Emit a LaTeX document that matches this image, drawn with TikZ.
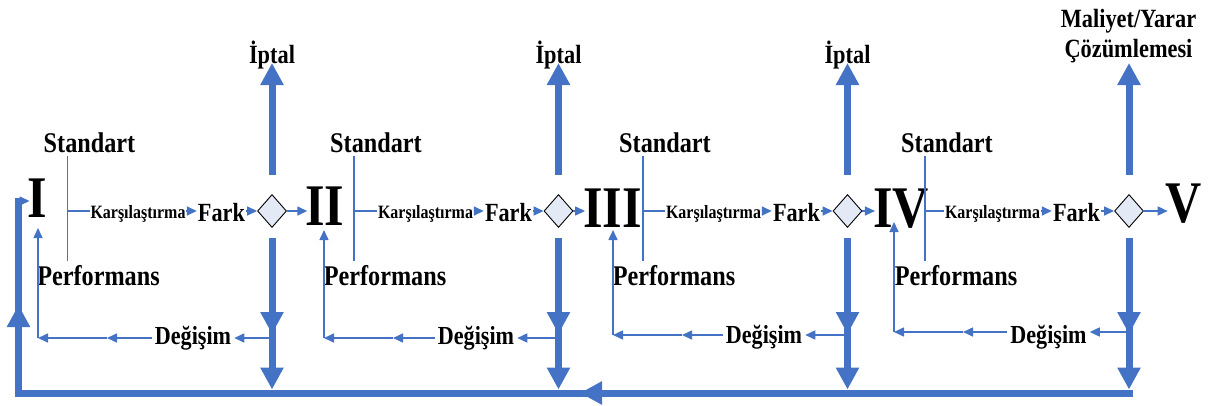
\documentclass[tikz,border=0pt]{standalone}
\usepackage{fontspec}
\setmainfont{Liberation Serif}[FakeStretch=0.85]
\usetikzlibrary{arrows.meta,shapes.geometric}
\definecolor{bl}{HTML}{4472C4}
\definecolor{dfill}{RGB}{227,234,246}
\begin{document}
\begin{tikzpicture}[x=1pt,y=-1pt,
 numeral/.style={anchor=base,inner sep=0pt,font=\fontsize{59}{60}\selectfont\bfseries},
 stdlbl/.style={anchor=base,inner sep=4pt,font=\fontsize{28.5}{30}\selectfont\bfseries},
 karlbl/.style={anchor=base,inner sep=0.5pt,font=\fontsize{18.8}{20}\selectfont\bfseries},
 farklbl/.style={anchor=base,inner sep=1pt,font=\fontsize{26.2}{28}\selectfont\bfseries},
 deglbl/.style={anchor=base,inner sep=3pt,font=\fontsize{26}{28}\selectfont\bfseries},
 toplbl/.style={anchor=base,inner sep=1pt,font=\fontsize{26.3}{28}\selectfont\bfseries},
 dia/.style={diamond,draw=black,line width=0.9pt,fill=dfill,minimum width=29pt,minimum height=33pt,inner sep=0pt},
 thk/.style={draw=bl,line width=7pt},
 thkarr/.style={thk,-{Triangle[width=22pt,length=22pt]}},
 thn/.style={draw=bl,line width=1.5pt},
 thnarr/.style={thn,-{Triangle[width=9pt,length=10pt]}},
]
\useasboundingbox (0,0) rectangle (1213,405);

% numerals
\node[numeral] (n1) at (37.5,217) {I};
\node[numeral] (n2) at (325,225) {II};
\node[numeral] (n3) at (612.5,227) {III};
\node[numeral] (n4) at (901,227) {IV};
\node[numeral] (n5) at (1184,222) {V};

% top labels
\node[toplbl] (ip1) at (272,63) {İptal};
\node[toplbl] (ip2) at (558.5,63) {İptal};
\node[toplbl] (ip3) at (847.5,63) {İptal};
\node[toplbl] (ml1) at (1128.5,27) {Maliyet/Yarar};
\node[toplbl] (ml2) at (1128.5,57) {Çözümlemesi};

% feedback loop (continuous line, arrowheads laid over it)
\coordinate (br) at (1132.5,393);
\coordinate (bm) at (580,393);
\coordinate (bmr) at (610,393);
\coordinate (bl) at (18.5,393);
\coordinate (lm) at (18.5,305);
\coordinate (lmb) at (18.5,335);
\coordinate (lt) at (18.5,198);
\coordinate (lh) at (22,201);
\draw[thk,line join=miter] (br) -- (bl) -- (lt);
\draw[thkarr] (bmr) -- (bm);
\draw[thkarr] (lmb) -- (lm);
\draw[thnarr,shorten >=-2pt] (lh) -- (lh -| n1.west);

\foreach \k/\xs/\D/\e/\ly/\ut/\kx/\fx/\gx/\gb in {
 1/67.5/272/38/338/228/138/221.5/193/344,
 2/354/558.5/324/338/230/425.5/508.5/476/344,
 3/643/847.5/613/335/230/713.5/796.5/764/343,
 4/925/1129/894/332/222/992.5/1076.5/1048.5/343}
{
 \node[stdlbl] (st\k) at (\xs+22,152) {Standart};
 \node[stdlbl] (pf\k) at (\xs+31,285) {Performans};
 \node[karlbl] (ka\k) at (\kx,218) {Karşılaştırma};
 \node[farklbl] (fa\k) at (\fx,221) {Fark};
 \node[dia] (d\k) at (\D,211) {};
 \node[deglbl] (dg\k) at (\gx,\gb) {Değişim};
 \coordinate (v\k) at (\xs,211);
 \coordinate (c\k) at (\D,\ly);
 \coordinate (e\k) at (\e,\ly);
 \coordinate (m\k) at (\e+69,\ly);
 \coordinate (up\k) at (\e,\ut);
 \coordinate (u\k) at (\D,63);
 \coordinate (t\k) at (\D,334);
 \coordinate (b\k) at (\D,389.5);
 \draw[thn,line width=1.2pt] (v\k |- st\k.south) -- (v\k |- pf\k.north);
 \draw[thk,line width=2.5pt] (v\k) -- (v\k -| ka\k.west);
 \draw[thnarr] (ka\k.east |- v\k) -- (fa\k.west |- v\k);
 \draw[thnarr] (fa\k.east |- v\k) -- (d\k.west);
 \draw[thkarr,shorten <=19.5pt] (d\k.north) -- (u\k);
 \draw[thnarr,shorten <=3.5pt] (c\k) -- (c\k -| dg\k.east);
 \draw[thnarr] (c\k -| dg\k.west) -- (m\k);
 \draw[thnarr] (m\k) -- (e\k);
 \draw[thnarr] (e\k) -- (up\k);
 \draw[thkarr,shorten <=10.5pt] (d\k.south) -- (b\k);
 \draw[thkarr,shorten <=10.5pt] (d\k.south) -- (t\k);
}

% diamond to next stage
\draw[thnarr,shorten >=-2pt] (d1.east) -- (d1.east -| n2.west);
\draw[thnarr,shorten >=-2pt] (d2.east) -- (d2.east -| n3.west);
\draw[thnarr,shorten >=-2pt] (d3.east) -- (d3.east -| n4.west);
\draw[thnarr,shorten >=-2pt] (d4.east) -- (d4.east -| n5.west);
\end{tikzpicture}
\end{document}
